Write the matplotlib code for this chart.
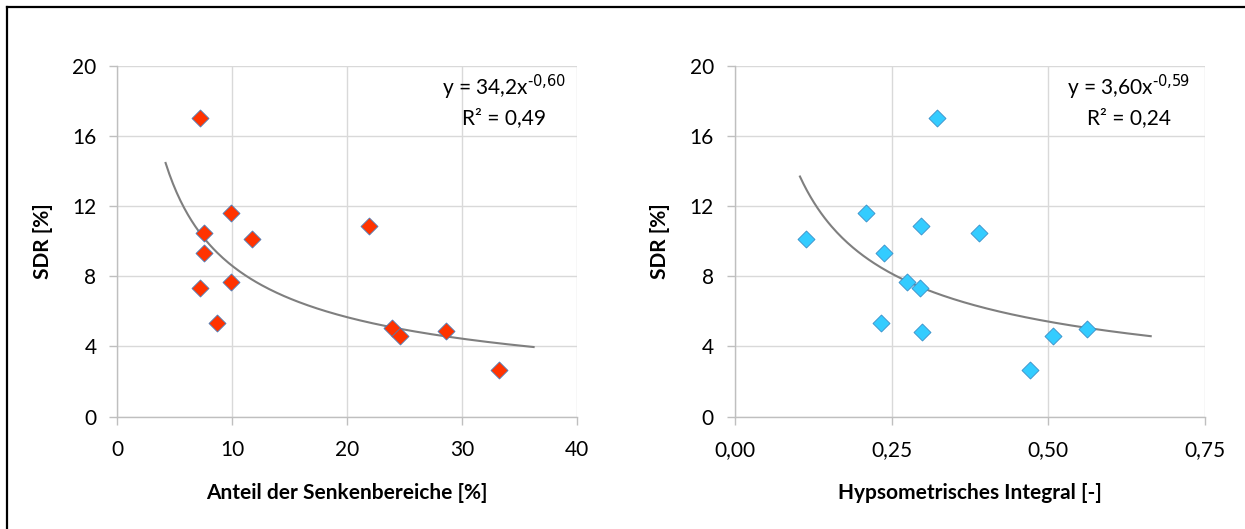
import numpy as np
import matplotlib.pyplot as plt
from matplotlib.ticker import FuncFormatter
from matplotlib.lines import Line2D

plt.rcParams['font.family'] = ['Lato', 'DejaVu Sans']

# Daten
senken = [7.2, 7.5, 7.5, 7.2, 9.9, 9.9, 8.7, 11.7, 21.9, 23.9, 24.6, 28.6, 33.2]
sdr_links = [17.04, 10.45, 9.31, 7.35, 11.6, 7.69, 5.32, 10.14, 10.86, 5.07, 4.62, 4.88, 2.64]

hi = [0.322, 0.114, 0.209, 0.297, 0.390, 0.2385, 0.275, 0.296, 0.233, 0.299, 0.508, 0.562, 0.470]
sdr_rechts = [17.04, 10.14, 11.6, 10.86, 10.45, 9.31, 7.69, 7.31, 5.32, 4.84, 4.62, 5.0, 2.64]

# Potenzfunktion (Trendlinie) y = a * x^b
a_links, b_links, r2_links = 34.2, -0.60, 0.49
a_rechts, b_rechts, r2_rechts = 3.60, -0.59, 0.24
bereich_links = (4.2, 36.2)
bereich_rechts = (0.104, 0.663)

W, H = 1245, 529
fs = 15
fig = plt.figure(figsize=(W / 100, H / 100), dpi=100)

ax1 = fig.add_axes([117.3 / W, 1 - 416.7 / H, 460 / W, 351 / H])
ax2 = fig.add_axes([734.7 / W, 1 - 416.7 / H, 470.6 / W, 351 / H])


def komma(fmt):
    return FuncFormatter(lambda v, p: (fmt % v).replace('.', ','))


def stil(ax, xmax, xticks, xfmt, xlabel):
    ax.set_xlim(0, xmax)
    ax.set_ylim(0, 20)
    ax.set_xticks(xticks)
    ax.set_yticks(np.arange(0, 21, 4))
    ax.xaxis.set_major_formatter(komma(xfmt))
    ax.grid(True, color='#D9D9D9', linewidth=1)
    ax.set_axisbelow(True)
    for s in ['top', 'right']:
        ax.spines[s].set_visible(False)
    for s in ['left', 'bottom']:
        ax.spines[s].set_color('#BFBFBF')
        ax.spines[s].set_linewidth(1)
    ax.tick_params(direction='out', length=6, width=1, color='#BFBFBF',
                   labelsize=fs, labelcolor='black')
    ax.tick_params(axis='x', pad=11)
    ax.tick_params(axis='y', pad=9)
    ax.set_ylabel('SDR [%]', fontsize=fs, fontweight='bold', labelpad=14)
    ax.set_xlabel(xlabel, fontsize=fs, fontweight='bold', labelpad=16)


def gleichung(ax, x, a, b, r2):
    txt_a = f'{a:.1f}' if a >= 10 else f'{a:.2f}'
    txt_b = f'{b:.2f}'
    ax.text(x, 18.75, 'y = ' + txt_a.replace('.', ',') + 'x$^{\\text{' + txt_b.replace('.', ',') + '}}$',
            ha='center', va='center', fontsize=fs)
    ax.text(x, 17.0, 'R² = ' + f'{r2:.2f}'.replace('.', ','), ha='center', va='center', fontsize=fs)


# linke Grafik
stil(ax1, 40, [0, 10, 20, 30, 40], '%.0f', 'Anteil der Senkenbereiche [%]')
xs = np.linspace(*bereich_links, 200)
ax1.plot(xs, a_links * xs ** b_links, color='#7F7F7F', linewidth=1.5, zorder=2)
ax1.scatter(senken, sdr_links, marker='D', s=75, color='#FF3300',
            edgecolors='#4A7EBB', linewidths=0.6, zorder=3)
gleichung(ax1, 33.6, a_links, b_links, r2_links)

# rechte Grafik
stil(ax2, 0.75, [0, 0.25, 0.5, 0.75], '%.2f', 'Hypsometrisches Integral [-]')
xs = np.linspace(*bereich_rechts, 200)
ax2.plot(xs, a_rechts * xs ** b_rechts, color='#7F7F7F', linewidth=1.5, zorder=2)
ax2.scatter(hi, sdr_rechts, marker='D', s=75, color='#33CCFF',
            edgecolors='#3A8FC8', linewidths=0.6, zorder=3)
gleichung(ax2, 0.628, a_rechts, b_rechts, r2_rechts)

# Rahmen (oben und links)
fig.add_artist(Line2D([7 / W, 1], [1 - 6.5 / H] * 2, color='black', linewidth=1.6))
fig.add_artist(Line2D([7 / W] * 2, [0, 1 - 6.5 / H], color='black', linewidth=1.6))

plt.savefig('out.png', dpi=100)
